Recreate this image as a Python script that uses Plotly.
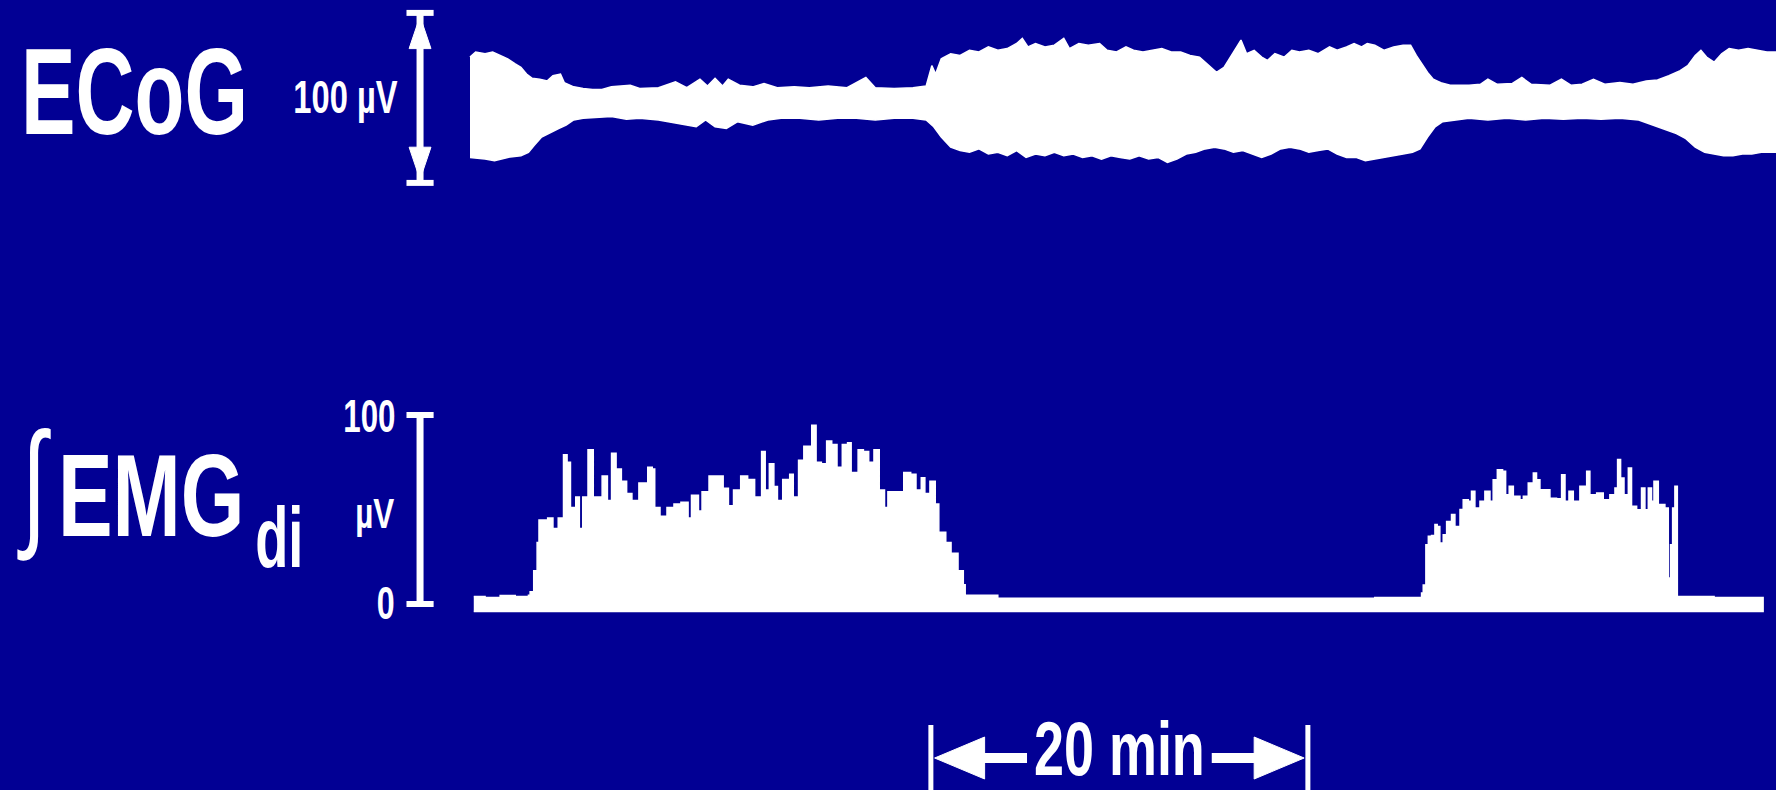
import plotly.graph_objects as go

# ---------------- data (time in minutes, amplitude in microvolts) ----------------
ecog_up_t = [0.0, 0.3, 0.8, 1.2, 1.6, 2.0, 2.4, 2.7, 3.0, 3.3, 3.7, 4.1, 4.4, 4.8, 5.0, 5.5, 6.0, 6.5, 7.0, 7.5,
             8.5, 9.0, 10.0, 10.9, 11.5, 12.2, 12.6, 13.0, 13.4, 13.7, 14.3, 15.0, 15.6, 16.3, 17.2, 18.0, 19.0,
             20.0, 21.0, 21.5, 22.5, 23.5, 24.2, 24.5, 24.7, 25.0, 25.5, 26.0, 26.5, 27.0, 27.5, 28.0, 28.5, 29.0,
             29.3, 29.6, 30.0, 30.5, 31.0, 31.5, 31.8, 32.3, 32.8, 33.4, 33.8, 34.3, 34.8, 35.2, 35.7, 36.2, 36.7,
             37.2, 37.7, 38.2, 38.7, 39.2, 39.6, 40.0, 40.5, 40.9, 41.2, 41.6, 42.0, 42.3, 42.7, 43.2, 43.6, 44.0,
             44.5, 45.0, 45.6, 46.0, 46.5, 46.9, 47.3, 47.6, 48.0, 48.5, 49.0, 49.5, 49.9, 50.2, 50.5, 50.8, 51.1,
             51.5, 52.0, 53.0, 53.6, 54.0, 54.5, 55.3, 55.8, 56.3, 57.3, 57.9, 58.4, 59.0, 59.6, 60.2, 61.0, 61.7,
             62.4, 63.0, 63.6, 64.2, 64.6, 65.0, 65.3, 65.6, 66.0, 66.4, 66.8, 67.3, 67.8, 68.3, 68.8, 69.3]
ecog_up_v = [27, 30, 29, 30, 28, 26, 23, 21, 17, 14.5, 14, 13, 16, 17, 12, 9.5, 8.5, 8, 8, 9.5,
             10.5, 8.5, 9, 12.5, 9, 14, 10, 14.5, 10, 14, 10.5, 9.5, 11.5, 9, 9.5, 9, 10,
             9, 15, 9, 8.5, 9, 10, 22, 17, 26, 29, 28, 31, 30, 33, 31, 32, 35,
             38, 33, 35, 33, 34, 38, 32, 35, 34, 35, 31, 30, 33, 31, 30, 31, 32,
             30, 30, 28, 27, 22, 18, 21, 30, 37, 29, 31, 27, 25, 29, 27, 31, 30,
             31, 29, 33, 31, 33, 35, 33, 35, 34, 31, 33, 34, 34, 28, 23, 18, 14,
             12, 10.5, 10.5, 11, 14, 11, 11.5, 15, 11, 10.5, 14, 10.5, 11, 14, 11, 12, 11,
             13, 13.5, 16, 19, 22, 28, 31, 27, 24, 29, 32, 31, 32, 31, 30, 30]

ecog_lo_t = [0.0, 0.8, 1.3, 2.0, 2.7, 3.1, 3.4, 3.8, 4.2, 4.7, 5.1, 5.5, 6.0, 6.5, 7.5, 8.3, 9.0, 10.0, 11.0,
             12.0, 12.5, 13.0, 13.6, 14.2, 15.0, 15.8, 16.5, 17.5, 18.5, 19.5, 20.5, 21.5, 22.5, 23.5, 24.2,
             24.6, 25.0, 25.5, 26.0, 26.5, 27.0, 27.5, 28.0, 28.5, 29.0, 29.5, 30.0, 30.5, 31.0, 31.5, 32.0,
             32.5, 33.0, 33.5, 34.0, 34.5, 35.0, 35.5, 36.0, 36.5, 37.0, 37.5, 38.0, 38.5, 39.0, 39.5, 40.0,
             40.5, 41.0, 41.5, 42.0, 42.5, 43.0, 43.5, 44.0, 44.5, 45.0, 45.5, 46.0, 46.5, 47.0, 47.5, 48.0,
             48.5, 49.0, 49.5, 50.0, 50.4, 50.8, 51.2, 51.6, 52.2, 53.0, 54.0, 55.0, 56.0, 57.0, 58.0, 59.0,
             60.0, 61.0, 62.0, 62.6, 63.0, 63.5, 64.0, 64.5, 65.0, 65.5, 66.0, 66.5, 67.0, 67.5, 68.0, 68.5, 69.3]
ecog_lo_v = [-32, -33, -34, -32, -31, -29, -25, -20, -18, -15, -13, -10, -9, -8.5, -8, -9.5, -9, -10, -12,
             -14, -10, -14, -15, -11, -13, -10, -9, -9, -10, -9, -9, -10, -9, -9, -10,
             -14, -20, -26, -28, -29, -27, -30, -29, -31, -28, -32, -30, -31, -29, -31, -30,
             -32, -31, -33, -31, -32, -33, -31, -33, -32, -35, -33, -30, -29, -27, -26, -27,
             -29, -28, -30, -32, -30, -27, -26, -27, -29, -28, -27, -30, -32, -32, -34, -33,
             -32, -31, -30, -29, -27, -20, -14, -11, -10, -9, -10, -9, -10, -9, -9.5, -9,
             -9.5, -9, -10, -12, -14, -16, -18, -21, -26, -29, -30, -31, -31, -30, -30, -29, -29]

emg_t = [0.2, 0.8, 1.6, 2.4, 3.1, 3.19, 3.38, 3.56, 3.66, 4.12, 4.40, 4.68, 4.96, 5.15, 5.33, 5.61, 5.80, 5.98,
         6.26, 6.54, 7.01, 7.29, 7.51, 7.75, 8.03, 8.31, 8.59, 8.96, 9.43, 9.67, 9.80, 10.08, 10.45, 10.82,
         11.19, 11.57, 11.75, 12.12, 12.31, 12.68, 13.05, 13.43, 13.71, 13.98, 14.36, 14.73, 15.10, 15.47,
         15.66, 15.88, 16.12, 16.31, 16.59, 16.96, 17.15, 17.43, 17.71, 18.13, 18.36, 18.64, 18.92, 19.19,
         19.47, 19.75, 20.03, 20.22, 20.59, 20.87, 21.15, 21.43, 21.71, 21.99, 22.17, 22.64, 23.01, 23.38,
         23.66, 23.94, 24.13, 24.40, 24.68, 24.87, 25.24, 25.52, 25.89, 26.17, 26.27, 28.0, 32.0, 36.0,
         40.0, 44.0, 48.0, 50.48, 50.57, 50.71, 50.84, 51.01, 51.19, 51.31, 51.45, 51.63, 51.81, 52.07,
         52.25, 52.52, 52.69, 52.96, 53.13, 53.31, 53.58, 53.84, 54.11, 54.28, 54.50, 54.78, 54.94, 55.13,
         55.35, 55.70, 55.88, 56.14, 56.41, 56.58, 56.76, 57.11, 57.29, 57.64, 57.91, 58.09, 58.30, 58.53,
         58.88, 59.24, 59.41, 59.77, 60.12, 60.47, 60.74, 60.88, 61.04, 61.22, 61.45, 61.62, 61.89, 62.15,
         62.33, 62.51, 62.68, 62.81, 63.04, 63.39, 63.57, 63.69, 63.80, 63.92, 64.05, 66.0, 68.6]
emg_v = [4, 3.5, 4.5, 4, 4.6, 6.5, 17.6, 32.5, 44.5, 45.5, 40, 45.5, 79, 75, 51, 56.6, 40, 56.6,
         81.6, 56.6, 67.7, 54.7, 79.8, 71.4, 65, 58.4, 54.7, 64, 72.4, 71.4, 51, 46.4, 51, 52.9,
         53.8, 45.5, 57.5, 49.2, 59.4, 67.7, 67.7, 61.2, 52, 60.3, 67.7, 65.9, 56.6, 80.7,
         60.3, 74.2, 62.2, 54.7, 65.9, 68.6, 56.6, 76, 83.5, 94.6, 75, 74.2, 86.3, 84.4,
         72.4, 84.4, 85.3, 69.6, 81.6, 80.7, 75, 81.6, 60.3, 51, 59.4, 59.4, 69.6, 68.6,
         60.3, 66.8, 58.4, 65, 52.9, 38, 32.5, 26.9, 17.6, 10.2, 4.6, 3, 3, 3,
         3, 3, 3.5, 5.8, 10, 31.4, 35.8, 36.3, 42, 41, 32.3, 36.7, 43.7, 47.3,
         41, 50, 55.2, 54.3, 59.6, 50.8, 54.3, 59.6, 54.3, 65.8, 71, 70.2, 57.8, 62.3,
         57, 55.2, 57, 64, 69.3, 65.8, 60.5, 60.5, 56, 55.7, 68.4, 54.3, 59.6, 54.3,
         62.3, 70.2, 57.8, 58.7, 55.2, 57.8, 61.4, 76.4, 66.7, 57.8, 72, 51.7, 49.9, 61.4,
         49.9, 61.4, 54.3, 65, 52.6, 50.8, 13.8, 31.4, 50.8, 62.3, 4, 3.5, 3.5]
emg_base_t = [0.2, 68.6]
emg_base_v = [-4, -4]

ecog_scale_uv = 100      # ECoG calibration bar
ecog_bar_mid_uv = 3      # level of the middle of the ECoG calibration bar
emg_scale_uv = 100       # EMG calibration bar (0 .. 100)
time_scale_min = 20      # time bar length
time_scale_start = 24.45
bar_t = -2.65            # x position of calibration bars

# ---------------- styling ----------------
BG = "#020094"
WHITE = "#ffffff"
FONT = "Liberation Sans, Arial, Helvetica, sans-serif"
W, H = 1776, 790
PX_PER_MIN = 18.85
X0_PX = 470
ECOG_CENTER_PX, ECOG_PX_PER_UV = 103, 1.7
EMG_ZERO_PX, EMG_PX_PER_UV = 604, 1.89


def px(x):
    return x / W


def py(y):
    return 1 - y / H


fig = go.Figure()

# ECoG band
fig.add_trace(go.Scatter(
    x=ecog_up_t + ecog_lo_t[::-1], y=ecog_up_v + ecog_lo_v[::-1],
    fill="toself", fillcolor=WHITE, mode="lines", line=dict(color=WHITE, width=1.5),
    yaxis="y", hoverinfo="skip", showlegend=False))

# EMG integrated trace
fig.add_trace(go.Scatter(
    x=emg_t + emg_base_t[::-1], y=emg_v + emg_base_v[::-1],
    fill="toself", fillcolor=WHITE, mode="lines", line=dict(color=WHITE, width=1.5, shape="hv"),
    yaxis="y2", hoverinfo="skip", showlegend=False))

shapes = []
# ECoG calibration bar with arrows
h = ecog_scale_uv / 2
m = ecog_bar_mid_uv
shapes.append(dict(type="line", xref="x", yref="y", x0=bar_t, x1=bar_t, y0=m - h, y1=m + h,
                   line=dict(color=WHITE, width=7)))
for s in (1, -1):
    shapes.append(dict(type="line", xref="x", yref="y", x0=bar_t - 0.72, x1=bar_t + 0.72,
                       y0=m + s * h, y1=m + s * h, line=dict(color=WHITE, width=6)))
    shapes.append(dict(type="path", xref="x", yref="y",
                       path=f"M {bar_t - 0.58},{m + s * (h - 21)} L {bar_t + 0.58},{m + s * (h - 21)} "
                            f"L {bar_t},{m + s * (h - 2)} Z",
                       fillcolor=WHITE, line=dict(color=WHITE, width=1)))
# EMG calibration bar
shapes.append(dict(type="line", xref="x", yref="y2", x0=bar_t, x1=bar_t, y0=0, y1=emg_scale_uv,
                   line=dict(color=WHITE, width=7)))
for v in (0, emg_scale_uv):
    shapes.append(dict(type="line", xref="x", yref="y2", x0=bar_t - 0.72, x1=bar_t + 0.72, y0=v, y1=v,
                       line=dict(color=WHITE, width=6)))

# time scale bar
t0, t1 = time_scale_start, time_scale_start + time_scale_min
ym = py(758)
for t in (t0, t1):
    shapes.append(dict(type="line", xref="x", yref="paper", x0=t, x1=t, y0=py(725), y1=0,
                       line=dict(color=WHITE, width=5)))
shapes.append(dict(type="line", xref="x", yref="paper", x0=t0 + 2.7, x1=t0 + 5.1, y0=ym, y1=ym,
                   line=dict(color=WHITE, width=10)))
shapes.append(dict(type="line", xref="x", yref="paper", x0=t1 - 5.1, x1=t1 - 2.7, y0=ym, y1=ym,
                   line=dict(color=WHITE, width=10)))
shapes.append(dict(type="path", xref="x", yref="paper",
                   path=f"M {t0 + 0.2},{ym} L {t0 + 2.85},{py(737)} L {t0 + 2.85},{py(779)} Z",
                   fillcolor=WHITE, line=dict(color=WHITE, width=1)))
shapes.append(dict(type="path", xref="x", yref="paper",
                   path=f"M {t1 - 0.2},{ym} L {t1 - 2.85},{py(737)} L {t1 - 2.85},{py(779)} Z",
                   fillcolor=WHITE, line=dict(color=WHITE, width=1)))


def txt(text, x, y, size, weight="bold"):
    # x, y: centre of the text in page pixels
    return dict(text=text, x=px(x), y=py(y), xref="paper", yref="paper", xanchor="center", yanchor="middle",
                showarrow=False, font=dict(family=FONT, size=size, color=WHITE, weight=weight))


annotations = [
    txt("ECoG", 134, 92, 122),
    txt("100 µV", 345, 97, 46),
    txt("∫", 34, 482, 140, "normal"),
    txt("EMG", 151, 495, 117),
    txt("di", 279, 537, 86),
    txt("100", 369, 416, 46),
    txt("µV", 375, 513, 43),
    txt("0", 386, 603, 46),
    dict(text="20 min", x=(t0 + t1) / 2, y=py(748), xref="x", yref="paper", xanchor="center", yanchor="middle",
         showarrow=False, font=dict(family=FONT, size=76, color=WHITE, weight="bold")),
]
# horizontal condensing of each label (the original lettering is a condensed face)
text_scale = [0.67, 0.71, 0.64, 0.70, 0.63, 0.68, 0.73, 0.70, 0.71]

fig.update_layout(
    width=W, height=H, margin=dict(l=0, r=0, t=0, b=0),
    paper_bgcolor=BG, plot_bgcolor=BG, showlegend=False,
    xaxis=dict(range=[-X0_PX / PX_PER_MIN, (W - X0_PX) / PX_PER_MIN], visible=False, fixedrange=True),
    yaxis=dict(range=[(ECOG_CENTER_PX - H) / ECOG_PX_PER_UV, ECOG_CENTER_PX / ECOG_PX_PER_UV],
               visible=False, fixedrange=True),
    yaxis2=dict(range=[(EMG_ZERO_PX - H) / EMG_PX_PER_UV, EMG_ZERO_PX / EMG_PX_PER_UV],
                visible=False, fixedrange=True, overlaying="y"),
    shapes=shapes, annotations=annotations,
)

post = (
    "document.body.style.margin='0';document.body.style.overflow='hidden';"
    "var sc=" + str(text_scale) + ";"
    "document.querySelectorAll('g.annotation').forEach(function(g){"
    "var i=+g.getAttribute('data-index');var t=g.querySelector('text');"
    "if(t&&sc[i]!==undefined){t.style.transformBox='fill-box';t.style.transformOrigin='center';"
    "t.style.transform='scaleX('+sc[i]+')';}});"
)

fig.write_html("out.html", config={"displayModeBar": False}, post_script=post)
